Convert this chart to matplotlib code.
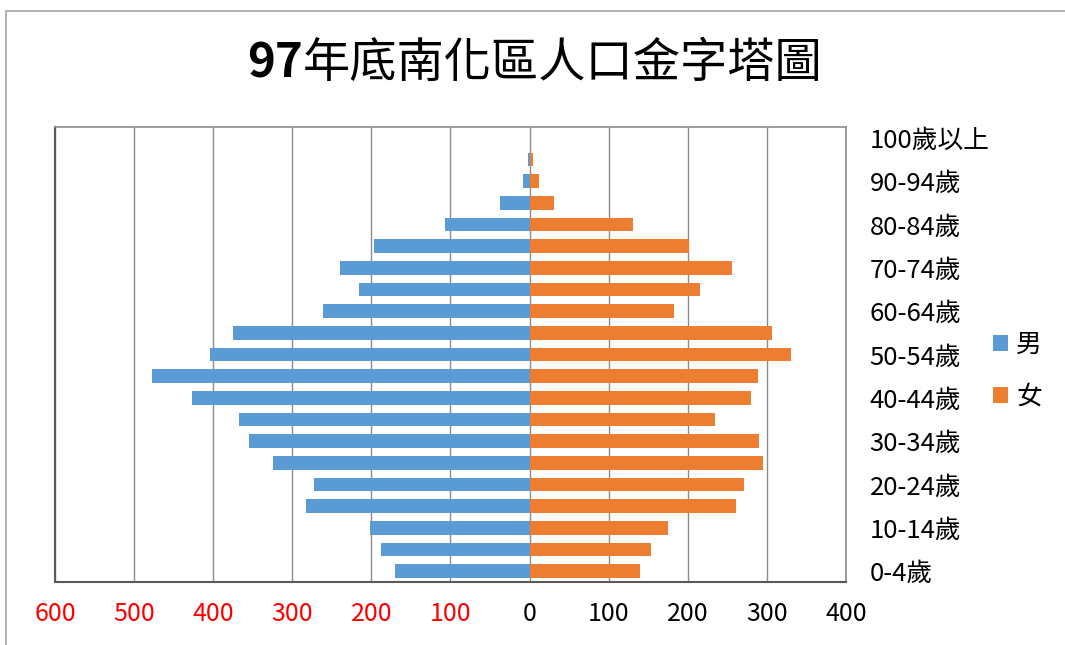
import numpy as np
import matplotlib.pyplot as plt
from matplotlib.patches import Rectangle

plt.rcParams['font.family'] = ['Noto Sans CJK TC', 'DejaVu Sans']

age_groups = ['0-4歲', '5-9歲', '10-14歲', '15-19歲', '20-24歲', '25-29歲',
              '30-34歲', '35-39歲', '40-44歲', '45-49歲', '50-54歲', '55-59歲',
              '60-64歲', '65-69歲', '70-74歲', '75-79歲', '80-84歲', '85-89歲',
              '90-94歲', '95-99歲', '100歲以上']
male = [170, 188, 202, 283, 273, 324, 355, 367, 427, 477, 404, 375,
        261, 216, 240, 197, 107, 37, 8, 2, 0]
female = [140, 153, 175, 261, 271, 295, 290, 235, 280, 289, 330, 306,
          182, 215, 256, 202, 131, 31, 12, 4, 0]
x_ticks = [-600, -500, -400, -300, -200, -100, 0, 100, 200, 300, 400]

blue = '#5B9BD5'
orange = '#ED7D31'

fig = plt.figure(figsize=(10.65, 6.45), dpi=100)
fig.patches.append(Rectangle((6 / 1065, -0.01), 1.0, 1 - 11 / 645 + 0.01,
                             transform=fig.transFigure, fill=False,
                             edgecolor='#a6a6a6', linewidth=1.2))

ax = fig.add_axes([55 / 1065, 1 - 582 / 645, (846 - 55) / 1065, (582 - 127) / 645])

y = np.arange(len(age_groups))
b_m = ax.barh(y, -np.array(male), height=0.62, color=blue, label='男', zorder=3)
b_f = ax.barh(y, female, height=0.62, color=orange, label='女', zorder=3)

ax.set_xlim(-600, 400)
ax.set_ylim(-0.5, len(age_groups) - 0.5)

ax.set_xticks(x_ticks)
ax.set_xticklabels([str(abs(v)) for v in x_ticks], fontsize=18)
for lab, v in zip(ax.get_xticklabels(), x_ticks):
    lab.set_color('red' if v < 0 else 'black')
ax.tick_params(axis='x', length=0, pad=14)

ax.yaxis.tick_right()
ax.set_yticks(y)
ax.set_yticklabels([g if i % 2 == 0 else '' for i, g in enumerate(age_groups)],
                   fontsize=18.5)
ax.tick_params(axis='y', length=0, pad=17)

ax.grid(axis='x', color='#8c8c8c', linewidth=1, zorder=0)
for side in ['left', 'bottom']:
    ax.spines[side].set_color('#595959')
    ax.spines[side].set_linewidth(1.5)
for side in ['top', 'right']:
    ax.spines[side].set_color('#8c8c8c')
    ax.spines[side].set_linewidth(1.2)

fig.legend(handles=[b_m, b_f], loc='center left',
           bbox_to_anchor=(980 / 1065, 1 - 371 / 645), frameon=False,
           fontsize=18.5, handlelength=0.6, handleheight=0.6,
           handletextpad=0.3, labelspacing=1.0, borderpad=0)

# title: bold digits followed by regular CJK text
t1 = fig.text(0, 1 - 88 / 645, '97', fontsize=34, fontweight='bold', va='bottom')
t2 = fig.text(0, 1 - 88 / 645, '年底南化區人口金字塔圖', fontsize=34, va='bottom')
fig.canvas.draw()
r = fig.canvas.get_renderer()
w1 = t1.get_window_extent(r).width
w2 = t2.get_window_extent(r).width
x0 = 535 - (w1 + w2) / 2
t1.set_x(x0 / 1065)
t2.set_x((x0 + w1) / 1065)

fig.savefig('out.png', dpi=100)
